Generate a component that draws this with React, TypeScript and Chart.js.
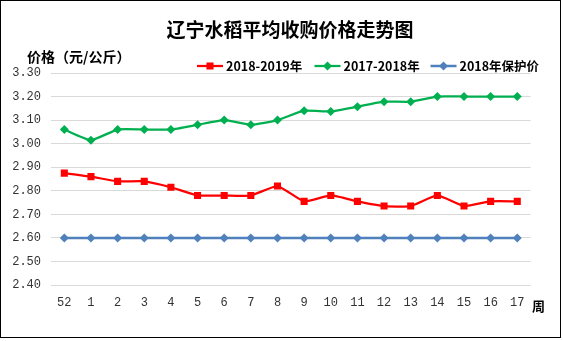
import React, { useEffect, useRef } from "react";
import { Chart, registerables } from "chart.js";

Chart.register(...registerables);

const chartTitle = "辽宁水稻平均收购价格走势图";
const yCaption = "价格（元/公斤）";
const xCaption = "周";
const weeks = ["52", "1", "2", "3", "4", "5", "6", "7", "8", "9", "10", "11", "12", "13", "14", "15", "16", "17"];
const seriesNames = ["2018-2019年", "2017-2018年", "2018年保护价"];
const price2018_2019 = [2.875, 2.86, 2.84, 2.84, 2.815, 2.78, 2.78, 2.78, 2.82, 2.755, 2.78, 2.755, 2.735, 2.735, 2.78, 2.735, 2.755, 2.755];
const price2017_2018 = [3.06, 3.015, 3.06, 3.06, 3.06, 3.08, 3.1, 3.08, 3.1, 3.14, 3.137, 3.157, 3.178, 3.178, 3.2, 3.2, 3.2, 3.2];
const protectionPrice = [2.6, 2.6, 2.6, 2.6, 2.6, 2.6, 2.6, 2.6, 2.6, 2.6, 2.6, 2.6, 2.6, 2.6, 2.6, 2.6, 2.6, 2.6];
const yMin = 2.4;
const yMax = 3.3;
const yStep = 0.1;

const RED = "#ff0000";
const GREEN = "#00b050";
const BLUE = "#4f81bd";
const CJK = '"Noto Sans CJK SC", "Noto Sans", sans-serif';
const TICK_FONT = '"Liberation Mono", "DejaVu Sans Mono", monospace';
const LEGEND_X = [197, 314.5, 430.5];

function drawMarker(ctx: CanvasRenderingContext2D, style: string, x: number, y: number, r: number, color: string) {
  ctx.save();
  ctx.fillStyle = color;
  ctx.beginPath();
  if (style === "rect") {
    const s = Math.SQRT1_2 * r;
    ctx.rect(x - s, y - s, 2 * s, 2 * s);
  } else {
    ctx.moveTo(x - r, y);
    ctx.lineTo(x, y - r);
    ctx.lineTo(x + r, y);
    ctx.lineTo(x, y + r);
    ctx.closePath();
  }
  ctx.fill();
  ctx.restore();
}

const decorPlugin = {
  id: "decor",
  beforeDraw(chart: any) {
    const ctx = chart.ctx as CanvasRenderingContext2D;
    ctx.save();
    ctx.fillStyle = "#ffffff";
    ctx.fillRect(0, 0, chart.width, chart.height);
    ctx.restore();
  },
  afterDraw(chart: any) {
    const ctx = chart.ctx as CanvasRenderingContext2D;
    ctx.save();
    ctx.strokeStyle = "#000000";
    ctx.lineWidth = 1;
    ctx.strokeRect(0.5, 0.5, 560, 337);

    ctx.fillStyle = "#000000";
    ctx.textBaseline = "middle";
    ctx.textAlign = "center";
    ctx.font = `bold 19px ${CJK}`;
    ctx.fillText(chartTitle, 290, 30);

    ctx.textAlign = "left";
    ctx.font = `bold 14px ${CJK}`;
    ctx.fillText(yCaption, 27, 57);

    ctx.font = `bold 13px ${CJK}`;
    ctx.fillText(xCaption, 532, 306);

    ctx.font = `bold 12.5px ${CJK}`;
    const y = 66;
    chart.data.datasets.forEach((ds: any, i: number) => {
      const x = LEGEND_X[i];
      ctx.strokeStyle = ds.borderColor;
      ctx.lineWidth = ds.borderWidth;
      ctx.beginPath();
      ctx.moveTo(x, y);
      ctx.lineTo(x + 26, y);
      ctx.stroke();
      drawMarker(ctx, ds.pointStyle, x + 13, y, ds.pointRadius, ds.pointBackgroundColor);
      ctx.fillStyle = "#000000";
      ctx.fillText(ds.label, x + 29, y + 0.5);
    });
    ctx.restore();
  },
};

export default function App() {
  const ref = useRef<HTMLCanvasElement | null>(null);
  useEffect(() => {
    if (!ref.current) return;
    const chart = new Chart(ref.current, {
      type: "line",
      data: {
        labels: weeks,
        datasets: [
          {
            label: seriesNames[0],
            data: price2018_2019,
            borderColor: RED,
            backgroundColor: RED,
            pointBackgroundColor: RED,
            pointBorderColor: RED,
            borderWidth: 2.25,
            pointStyle: "rect",
            pointRadius: 5,
            pointBorderWidth: 0,
            tension: 0.15,
            order: 1,
          },
          {
            label: seriesNames[1],
            data: price2017_2018,
            borderColor: GREEN,
            backgroundColor: GREEN,
            pointBackgroundColor: GREEN,
            pointBorderColor: GREEN,
            borderWidth: 2.25,
            pointStyle: "rectRot",
            pointRadius: 4.5,
            pointBorderWidth: 0,
            tension: 0.15,
            order: 2,
          },
          {
            label: seriesNames[2],
            data: protectionPrice,
            borderColor: BLUE,
            backgroundColor: BLUE,
            pointBackgroundColor: BLUE,
            pointBorderColor: BLUE,
            borderWidth: 2.5,
            pointStyle: "rectRot",
            pointRadius: 4.5,
            pointBorderWidth: 0,
            tension: 0,
            order: 3,
          },
        ],
      },
      options: {
        animation: false,
        responsive: false,
        devicePixelRatio: 1,
        layout: { padding: { top: 73, right: 32.4, bottom: 26, left: 0 } },
        plugins: {
          legend: { display: false },
          title: { display: false },
          tooltip: { enabled: false },
        },
        scales: {
          x: {
            offset: true,
            grid: { display: false, drawTicks: false },
            border: { display: false },
            ticks: {
              color: "#333333",
              font: { family: TICK_FONT, size: 12 },
              padding: 11,
              maxRotation: 0,
              autoSkip: false,
            },
            afterFit: (s: any) => {
              s.height = 30;
            },
          },
          y: {
            min: yMin,
            max: yMax,
            grid: { color: "#d9d9d9", lineWidth: 1, drawTicks: false },
            border: { display: false },
            ticks: {
              stepSize: yStep,
              color: "#333333",
              font: { family: TICK_FONT, size: 12 },
              padding: 10,
              callback: (v: any) => Number(v).toFixed(2),
            },
            afterFit: (s: any) => {
              s.width = 51;
            },
          },
        },
      },
      plugins: [decorPlugin],
    });
    return () => chart.destroy();
  }, []);

  return (
    <div style={{ position: "absolute", left: 0, top: 0, width: 563, height: 341, background: "#ffffff" }}>
      <canvas ref={ref} width={563} height={341} style={{ display: "block", width: 563, height: 341 }} />
    </div>
  );
}
